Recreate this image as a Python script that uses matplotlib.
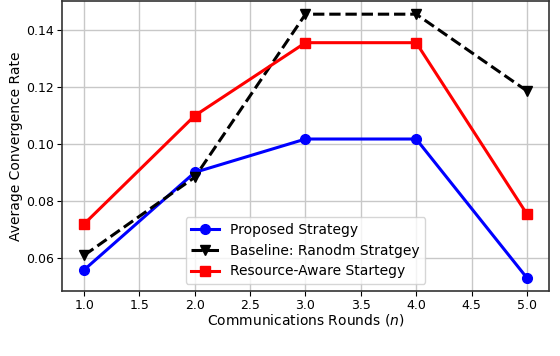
import numpy as np
import matplotlib
matplotlib.use('Agg')
import matplotlib.pyplot as plt

rounds = [1.0, 2.0, 3.0, 4.0, 5.0]
proposed = [0.0559, 0.0901, 0.1018, 0.1018, 0.0531]
baseline = [0.0610, 0.0884, 0.1456, 0.1456, 0.1187]
resource_aware = [0.0720, 0.1100, 0.1356, 0.1356, 0.0755]

plt.rcParams['font.family'] = ['DejaVu Sans']
plt.rcParams['font.size'] = 10

fig = plt.figure(figsize=(5.6, 3.56), dpi=100)
ax = fig.add_axes([62 / 560, 65 / 356, 487 / 560, 290 / 356])

ax.plot(rounds, proposed, color='blue', marker='o', markersize=7, linewidth=2.2,
        label='Proposed Strategy')
ax.plot(rounds, baseline, color='black', marker='v', markersize=7, linewidth=2.2,
        linestyle='--', label='Baseline: Ranodm Stratgey')
ax.plot(rounds, resource_aware, color='red', marker='s', markersize=7, linewidth=2.2,
        label='Resource-Aware Startegy')

ax.set_xticks([1.0, 1.5, 2.0, 2.5, 3.0, 3.5, 4.0, 4.5, 5.0])
ax.set_yticks([0.06, 0.08, 0.10, 0.12, 0.14])
ax.tick_params(labelsize=9, pad=2.5, length=3.5)
ax.grid(True, color='#c8c8c8', linewidth=1.0)
ax.set_axisbelow(True)
for s in ax.spines.values():
    s.set_color('#333333')
    s.set_linewidth(1.2)

ax.set_xlabel('Communications Rounds ($n$)', labelpad=0)
ax.set_ylabel('Average Convergence Rate', labelpad=2)
ax.legend(loc='lower center', fontsize=10, handlelength=2.0)

plt.savefig('out.png', dpi=100)
